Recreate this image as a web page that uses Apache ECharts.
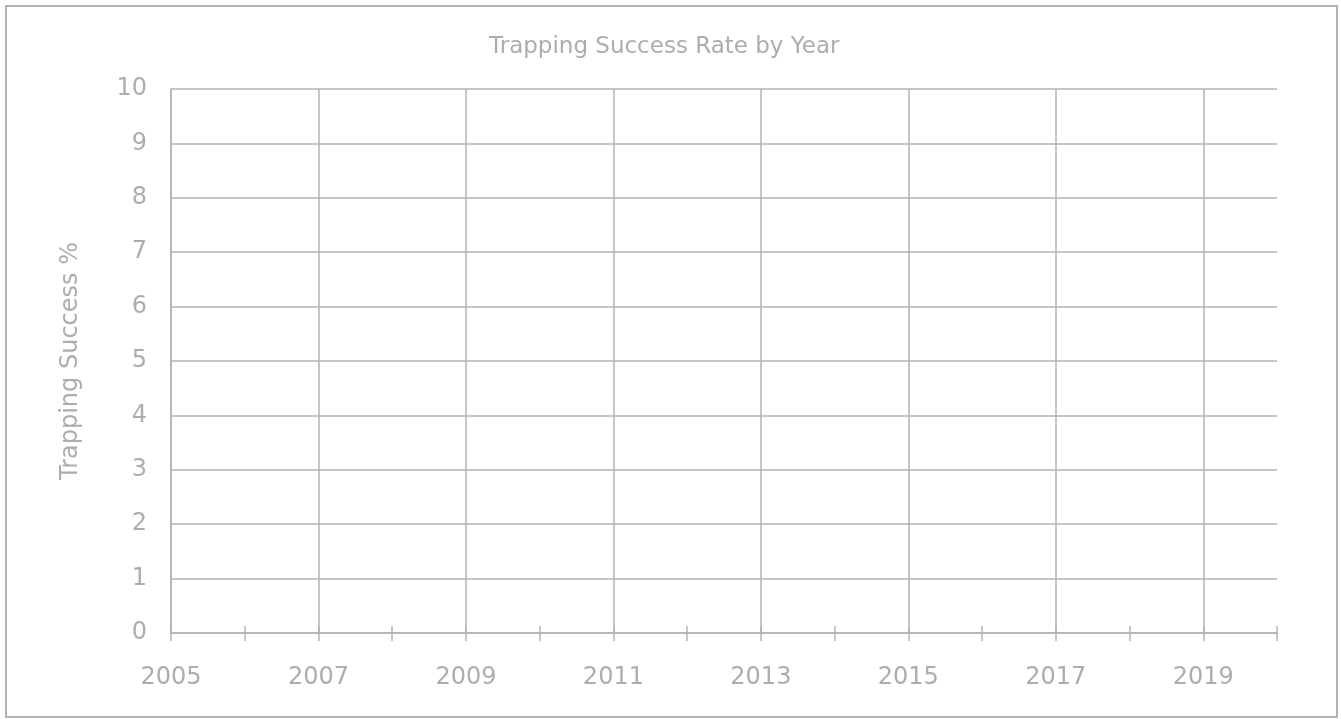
<!DOCTYPE html>
<html>
<head>
<meta charset="utf-8">
<title>Trapping Success Rate by Year</title>
<script src="https://cdn.jsdelivr.net/npm/echarts@6/dist/echarts.min.js"></script>
<style>
  html, body { margin: 0; padding: 0; background: #fff; }
  #chart { width: 1341px; height: 719px; }
</style>
</head>
<body>
<div id="chart"></div>
<script>
// x axis categories (one per year, labels on odd years)
var years = ['2005', '2006', '2007', '2008', '2009', '2010', '2011', '2012',
             '2013', '2014', '2015', '2016', '2017', '2018', '2019', '2020'];
// y axis ticks
var yTicks = [0, 1, 2, 3, 4, 5, 6, 7, 8, 9, 10];
// the reference plots no values at all
var successRate = [];

var textColor = '#adadb1';
var lineColor = '#b3b3b7';
var font = 'DejaVu Sans';

var chart = echarts.init(document.getElementById('chart'));
var option = {
    animation: false,
    title: {
        text: 'Trapping Success Rate by Year',
        left: 484,
        top: 31,
        textStyle: {
            color: textColor,
            fontFamily: font,
            fontWeight: 'normal',
            fontSize: 23
        }
    },
    // outer frame
    graphic: [{
        type: 'rect',
        shape: { x: 6, y: 6, width: 1331, height: 711 },
        style: { fill: 'none', stroke: lineColor, lineWidth: 2 },
        silent: true
    }],
    grid: {
        left: 171,
        right: 64,
        top: 89,
        bottom: 86
    },
    xAxis: [
        {
            type: 'category',
            data: years,
            boundaryGap: false,
            position: 'bottom',
            axisLine: { lineStyle: { color: lineColor, width: 1.5 } },
            axisTick: {
                interval: 0,
                length: 8,
                lineStyle: { color: lineColor, width: 1.5 }
            },
            axisLabel: {
                interval: 1,
                margin: 33,
                color: textColor,
                fontFamily: font,
                fontSize: 24
            },
            splitLine: {
                show: true,
                interval: function (index) { return index % 2 === 0; },
                lineStyle: { color: lineColor, width: 1.5 }
            }
        },
        {
            // inner half of the ticks, so they cross the axis line
            type: 'category',
            data: years,
            boundaryGap: false,
            position: 'bottom',
            offset: 0,
            axisLine: { show: false },
            axisTick: {
                inside: true,
                interval: 0,
                length: 7,
                lineStyle: { color: lineColor, width: 1.5 }
            },
            axisLabel: { show: false },
            splitLine: { show: false }
        }
    ],
    yAxis: {
        type: 'value',
        min: yTicks[0],
        max: yTicks[yTicks.length - 1],
        interval: 1,
        name: 'Trapping Success %',
        nameLocation: 'middle',
        nameRotate: 90,
        nameGap: 88,
        nameTextStyle: {
            color: textColor,
            fontFamily: font,
            fontSize: 24
        },
        axisLine: { show: true, lineStyle: { color: lineColor, width: 1.5 } },
        axisTick: { show: false },
        axisLabel: {
            margin: 24,
            color: textColor,
            fontFamily: font,
            fontSize: 24
        },
        splitLine: { lineStyle: { color: lineColor, width: 1.5 } }
    },
    series: [
        {
            name: 'Trapping Success %',
            type: 'line',
            xAxisIndex: 0,
            data: successRate
        }
    ]
};
chart.setOption(option);
</script>
</body>
</html>
